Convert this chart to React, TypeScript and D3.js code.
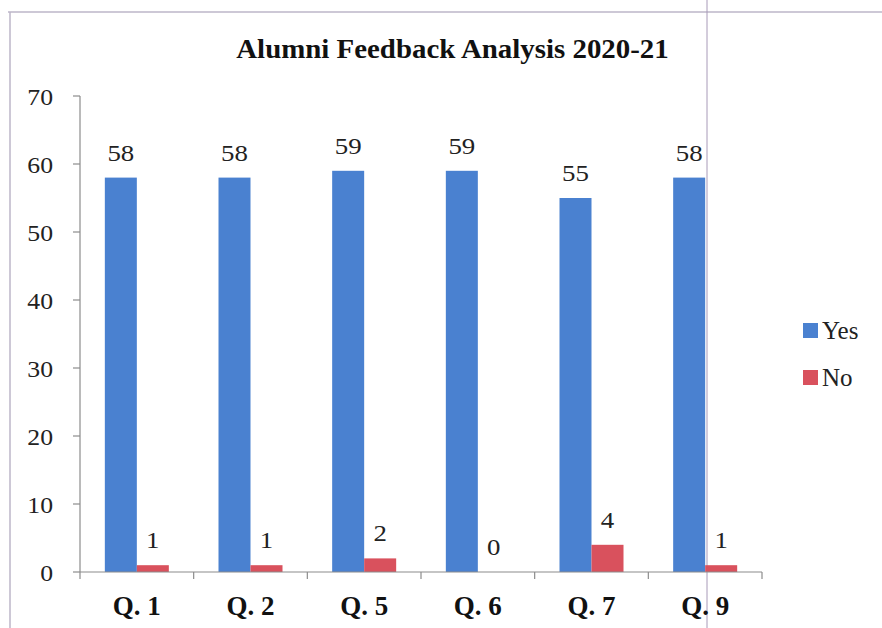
import React from "react"
import * as d3 from "d3"

const categories = ["Q. 1", "Q. 2", "Q. 5", "Q. 6", "Q. 7", "Q. 9"]
const yesValues = [58, 58, 59, 59, 55, 58]
const noValues = [1, 1, 2, 0, 4, 1]
const yTicks = [0, 10, 20, 30, 40, 50, 60, 70]
const seriesNames = ["Yes", "No"]
const seriesColors = ["#4A81D0", "#D9515D"]

const W = 882
const H = 628
const serif = "'Liberation Serif', 'Times New Roman', serif"

// numbers in the scan are a little wider than plain Times
function Num(props: { x: number; y: number; anchor: string; size: number; children: React.ReactNode }) {
  return (
    <g transform={`translate(${props.x},${props.y}) scale(1.12,1)`}>
      <text textAnchor={props.anchor} fontFamily={serif} fontSize={props.size} fill="#222">
        {props.children}
      </text>
    </g>
  )
}

export default function App() {
  const left = 80
  const right = 762
  const top = 96
  const bottom = 572

  const x = d3.scaleBand<string>().domain(categories).range([left, right]).paddingInner(0).paddingOuter(0)
  const y = d3.scaleLinear().domain([0, 70]).range([bottom, top])
  const barW = 32
  const series = [yesValues, noValues]

  return (
    <svg width={W} height={H} style={{ position: "absolute", left: 0, top: 0, background: "#fff" }}>
      {/* scan frame */}
      <line x1={8} x2={W} y1={12} y2={12} stroke="#bdb6c8" strokeWidth={1.5} />
      <line x1={10} x2={10} y1={12} y2={H} stroke="#bdb6c8" strokeWidth={1.5} />
      <line x1={707} x2={707} y1={0} y2={H} stroke="#a89ab8" strokeWidth={1} />

      <g transform="translate(452.5,58) scale(1.07,1)">
        <text textAnchor="middle" fontFamily={serif} fontWeight="bold" fontSize={27} fill="#111">
          Alumni Feedback Analysis 2020-21
        </text>
      </g>

      {/* y axis */}
      <line x1={left} x2={left} y1={top} y2={bottom} stroke="#8c8c8c" strokeWidth={1.2} />
      {yTicks.map((t) => (
        <g key={t}>
          <line x1={left - 7} x2={left} y1={y(t)} y2={y(t)} stroke="#8c8c8c" strokeWidth={1.2} />
          <Num x={left - 27} y={y(t) + 9} anchor="end" size={23}>
            {t}
          </Num>
        </g>
      ))}

      {/* bars */}
      {categories.map((c, i) => {
        const cx = (x(c) as number) + x.bandwidth() / 2
        return (
          <g key={c}>
            {series.map((vals, s) => {
              const bx = cx - barW + s * barW
              return (
                <g key={s}>
                  <rect x={bx} y={y(vals[i])} width={barW} height={bottom - y(vals[i])} fill={seriesColors[s]} />
                  <Num x={bx + barW / 2} y={y(vals[i]) - 17} anchor="middle" size={24}>
                    {vals[i]}
                  </Num>
                </g>
              )
            })}
            <text x={cx} y={615} textAnchor="middle" fontFamily={serif} fontWeight="bold" fontSize={27} fill="#111">
              {c}
            </text>
          </g>
        )
      })}

      {/* x axis */}
      <line x1={left} x2={right} y1={bottom} y2={bottom} stroke="#8c8c8c" strokeWidth={1.2} />
      {[...categories.map((c) => x(c) as number), right].map((tx, i) => (
        <line key={i} x1={tx} x2={tx} y1={bottom} y2={bottom + 7} stroke="#8c8c8c" strokeWidth={1.2} />
      ))}

      {/* legend */}
      {seriesNames.map((n, i) => (
        <g key={n} transform={`translate(803, ${323 + i * 47})`}>
          <rect x={0} y={0} width={15} height={15} fill={seriesColors[i]} />
          <text x={19} y={16} fontFamily={serif} fontSize={25} fill="#222">
            {n}
          </text>
        </g>
      ))}
    </svg>
  )
}
